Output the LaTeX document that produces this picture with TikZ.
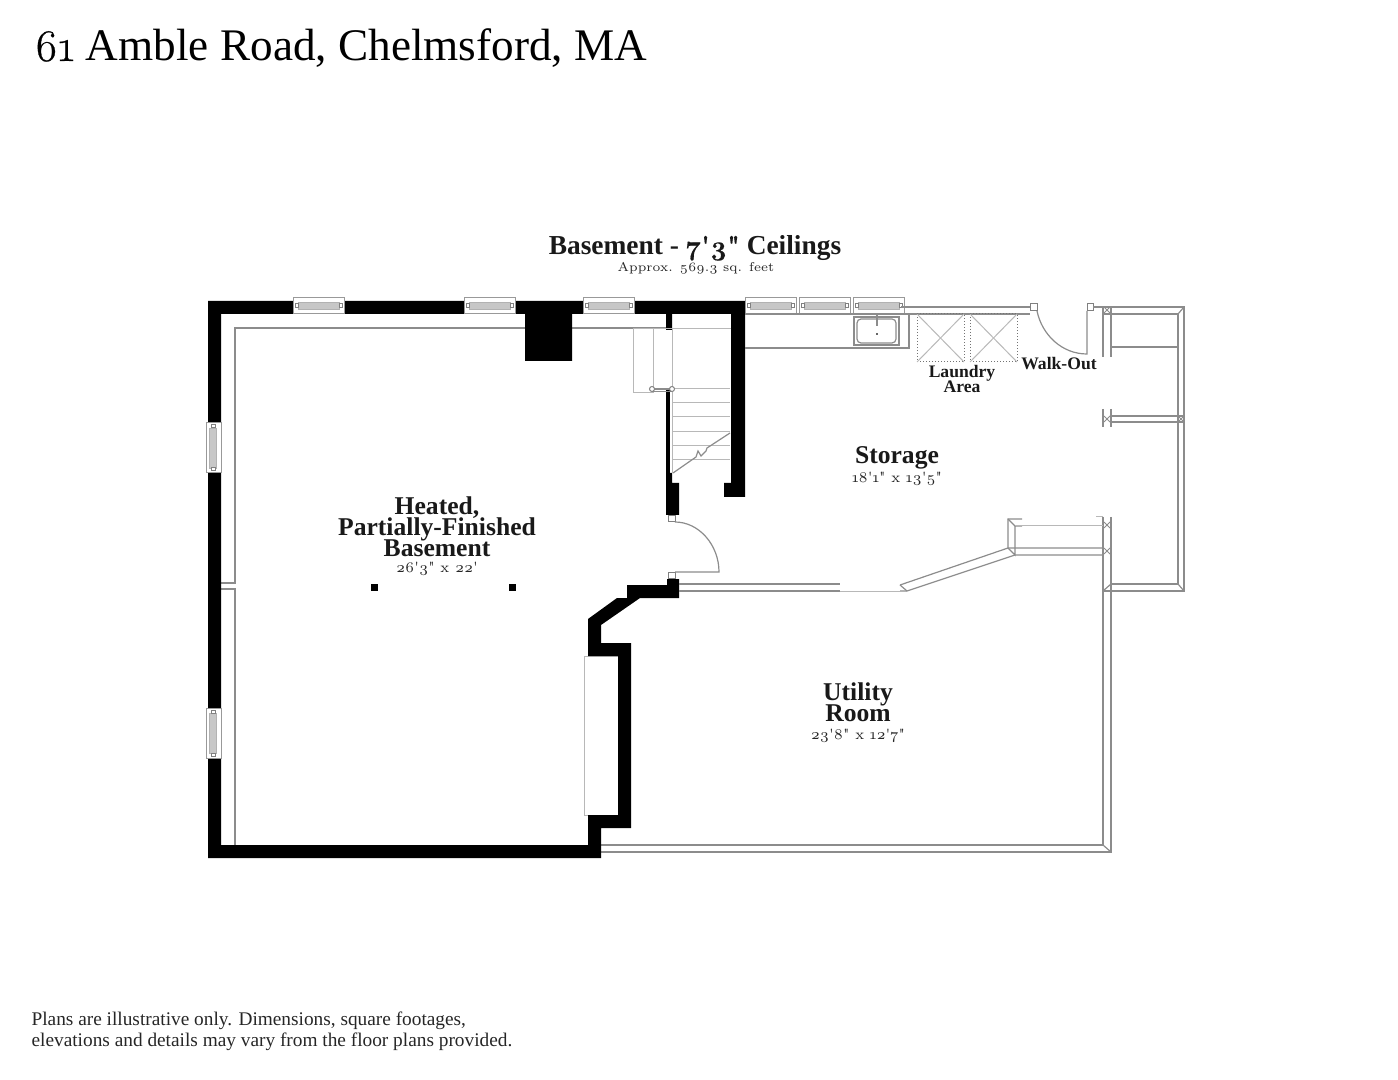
\documentclass[tikz,border=0pt]{standalone}
\usepackage{fontspec}
\usetikzlibrary{positioning}
\setmainfont{Liberation Serif}
\newfontfamily\numfont{Latin Modern Roman}[Numbers=OldStyle]
\newfontfamily\bignum{Latin Modern Roman}[Numbers=OldStyle, FakeBold=.6]
\tikzset{every picture/.style={line width=.6pt}}
\tikzset{
  wall/.style={fill=black, draw=none},
  plan/.style={draw=black!45, line width=.6pt},
  light/.style={draw=black!28, line width=.5pt},
  dashedline/.style={draw=black!55, line width=.5pt, densely dotted},
  hinge/.style={draw=black!50, fill=white, line width=.5pt},
  windowbox/.style={draw=black!40, fill=white, line width=.5pt},
  windowpane/.style={fill=black!22, draw=black!30, line width=.3pt},
  roomname/.style={font=\bfseries\fontsize{12.8}{10.5}\selectfont, align=center, text=black!90, inner sep=0pt},
  smallname/.style={font=\bfseries\fontsize{8.8}{7.5}\selectfont, align=center, text=black!90, inner sep=0pt},
  dims/.style={font=\numfont\fontsize{7.4}{9}\selectfont, text=black!85, inner sep=0pt},
}
\def\wh{47} % window length, px
\def\wv{50}

\begin{document}
\begin{tikzpicture}[x=.5pt,y=-.5pt]
  \useasboundingbox (0,0) rectangle (1398,1080);

  % inner finish lines of the basement
  \draw[plan] (221,583) -- (235,583) -- (235,328) -- (666,328);
  \draw[plan] (221,589) -- (235,589) -- (235,845);
  % utility room walls
  \draw[plan] (600,845) -- (1103,845) -- (1103,590);
  \draw[plan] (600,852) -- (1111,852) -- (1111,590);
  \draw[plan] (1103,845) -- (1111,852);
  % bay in front of the chimney wall
  \draw[light] (618,656) -- (584,656) -- (584,815) -- (618,815);

  % black walls
  \fill[wall] (208,301) -- (525,301) -- (745,301) -- (745,497) -- (724,497) -- (724,483)
     -- (731,483) -- (731,314) -- (672,314) -- (672,330) -- (666,330) -- (666,314)
     -- (572,314) -- (572,361) -- (525,361) -- (525,314) -- (221,314) -- (221,845)
     -- (588,845) -- (588,815) -- (618,815) -- (618,656) -- (588,656) -- (588,619)
     -- (617,598) -- (627,598) -- (627,585) -- (667,585) -- (667,579) -- (679,579)
     -- (679,598) -- (640,598) -- (601,625) -- (601,643) -- (631,643) -- (631,828)
     -- (601,828) -- (601,858) -- (208,858) -- cycle;
  \fill[wall] (666,390) rectangle (670,473);
  \fill[wall] (666,473) -- (672,473) -- (672,483) -- (679,483) -- (679,515) -- (666,515) -- cycle;

  % windows along the top wall
  \foreach \x in {293,464,583,745,799,853} {
      \draw[windowbox] (\x,298) rectangle (\x+\wh+4,314);
      \draw[windowpane] (\x+5,302) rectangle (\x+\wh-1,309);
      \draw[hinge] (\x+2,304) rectangle (\x+5,308);
      \draw[hinge] (\x+\wh-1,304) rectangle (\x+\wh+2,308);
  };
  % windows along the left wall
  \foreach \y in {423,708} {
      \draw[windowbox] (206,\y) rectangle (221,\y+\wv);
      \draw[windowpane] (209,\y+5) rectangle (216,\y+\wv-5);
      \draw[hinge] (211,\y+2) rectangle (215,\y+5);
      \draw[hinge] (211,\y+\wv-5) rectangle (215,\y+\wv-2);
  };

  % posts
  \foreach \x in {371,509} {
      \fill[wall] (\x,584) rectangle (\x+7,591);
  };

  % stairs
  \draw[light] (731,329) -- (633,329) -- (633,393) -- (653,393) -- (653,329);
  \draw[light] (672,329) -- (672,473);
  \foreach \y in {403,417,432,446,460} {
      \draw[light] (673,\y) -- (730,\y);
  };
  \draw[light] (673,389) -- (730,389);
  \draw[plan] (652,389) -- (672,389);
  \draw[plan] (652,391.5) -- (672,391.5);
  \draw[hinge] (652,389) circle (2.5);
  \draw[hinge] (672,389) circle (2.5);
  \draw[plan] (673,473) -- (696,457) -- (698,451) -- (701,456) -- (706,451) -- (707,448) -- (730,433);

  % door to the storage side
  \draw[hinge] (668,516) rectangle (675,522);
  \draw[hinge] (668,572) rectangle (675,578);
  \draw[plan] (675,522) .. controls (699,522) and (719,545) .. (719,572) -- (675,572);

  % partition under the storage room
  \draw[plan] (679,584) -- (840,584);
  \draw[plan] (679,591) -- (840,591);
  \draw[light] (840,591) -- (900,591);
  \draw[plan] (900,591) -- (907,591) -- (1015,555) -- (1103,555);
  \draw[plan] (900,585) -- (1008,548) -- (1103,548);
  \draw[plan] (900,585) -- (907,591);
  \draw[plan] (1022,519) -- (1008,519) -- (1008,548) -- (1015,555) -- (1015,526) -- (1022,526);
  \draw[plan] (1008,519) -- (1015,526);
  \draw[light] (1015,526) -- (1103,526);

  % bench along the top of the storage room
  \draw[plan] (745,348) -- (909,348) -- (909,314);
  \draw[plan] (901,307) -- (1030,307);
  \draw[plan] (745,314) -- (1030,314);
  \draw[plan] (854,317) rectangle (899,345);
  \draw[plan, rounded corners=2pt] (857,319) rectangle (896,343);
  \draw[plan] (877,315) -- (877,326);
  \fill[black!60] (876,333) rectangle (878,335);

  % laundry machines
  \foreach \x in {917,970} {
      \draw[dashedline] (\x,314) rectangle (\x+47,362);
      \draw[light] (\x,314) -- (\x+47,362);
      \draw[light] (\x+47,314) -- (\x,362);
  };

  % walk-out door
  \draw[hinge] (1030,304) rectangle (1037,311);
  \draw[hinge] (1087,304) rectangle (1093,311);
  \draw[plan] (1037,311) .. controls (1042,335) and (1062,354) .. (1087,354) -- (1087,311);

  % porch frame on the right
  \draw[plan] (1093,307) -- (1184,307) -- (1184,591) -- (1103,591);
  \draw[plan] (1103,314) -- (1178,314) -- (1178,584) -- (1111,584);
  \draw[plan] (1178,314) -- (1184,307);
  \draw[plan] (1178,584) -- (1184,591);
  \draw[plan] (1111,584) -- (1103,591);
  \draw[plan] (1111,347) -- (1178,347);
  \draw[plan] (1111,416) -- (1184,416);
  \draw[plan] (1111,422) -- (1184,422);
  \foreach \a/\b in {307/357,409/427,517/590} {
      \draw[plan] (1103,\a) -- (1103,\b);
      \draw[plan] (1111,\a) -- (1111,\b);
  };
  \draw[light] (1103,517) -- (1096,517);
  \draw[light] (1103,526) -- (1096,526);
  % little crossings where the frames meet
  \foreach \cx/\cy in {1107/310,1107/419,1107/525,1107/551,1181/419} {
      \draw[plan, line width=.4pt] (\cx-3,\cy-3) -- (\cx+3,\cy+3) (\cx-3,\cy+3) -- (\cx+3,\cy-3);
  };

  % texts
  \node[anchor=base west, inner sep=0pt, font=\fontsize{22.6}{24}\selectfont] (title) at (34,61)
    {{\bignum 61} Amble Road, Chelmsford, MA};
  \node[roomname, anchor=base, font=\bfseries\fontsize{13.7}{14}\selectfont] (floorname) at (695,255)
    {Basement - {\bignum 7'3"} Ceilings};
  \node[dims, anchor=base, font=\numfont\fontsize{6.4}{8}\selectfont] (floorarea) at (696,272) {Approx. 569.3 sq. feet};
  \node[roomname] (basement) at (437,527) {Heated,\\[-1.5pt]Partially-Finished\\[-1.5pt]Basement};
  \node[dims, below=2pt of basement] (basementdims) {26'3" x 22'};
  \node[roomname] (storage) at (897,458) {Storage};
  \node[dims, below=1pt of storage] (storagedims) {18'1" x 13'5"};
  \node[roomname] (utility) at (858,702) {Utility\\[-1.5pt]Room};
  \node[dims, below=3pt of utility] (utilitydims) {23'8" x 12'7"};
  \node[smallname] (laundry) at (962,379) {Laundry\\[-1pt]Area};
  \node[smallname] (walkout) at (1059,364) {Walk-Out};
  \node[anchor=north west, inner sep=0pt, align=left, text=black!85,
        font=\fontsize{9.66}{10.6}\selectfont] (notes) at (31,1011)
    {Plans are illustrative only. Dimensions, square footages,\\
     elevations and details may vary from the floor plans provided.};
\end{tikzpicture}
\end{document}
